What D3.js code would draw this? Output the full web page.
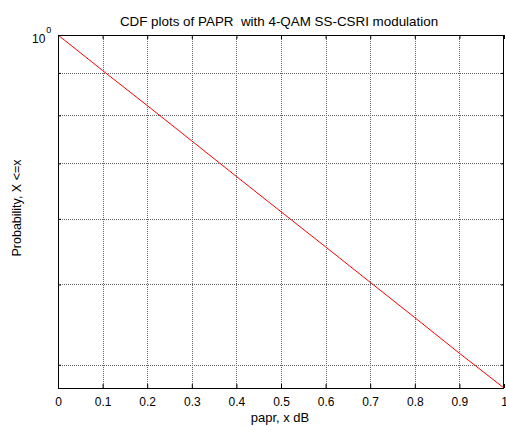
<!DOCTYPE html>
<html>
<head>
<meta charset="utf-8">
<script src="https://cdn.jsdelivr.net/npm/d3@7"></script>
<style>
  body { margin: 0; background: #fff; }
  svg { display: block; font-family: "Liberation Sans", Arial, sans-serif; }
  .grid line { stroke: #666; stroke-width: 1; stroke-dasharray: 1,1; }
</style>
</head>
<body>
<div id="chart"></div>
<script>
// data
var paprDb = [0, 0.1, 0.2, 0.3, 0.4, 0.5, 0.6, 0.7, 0.8, 0.9, 1.0];
var cdfVals = [1.0, 0.906, 0.822, 0.745, 0.675, 0.612, 0.555, 0.503, 0.456, 0.413, 0.375];
var xTicks = [0, 0.1, 0.2, 0.3, 0.4, 0.5, 0.6, 0.7, 0.8, 0.9, 1];
var yMinor = [0.4, 0.5, 0.6, 0.7, 0.8, 0.9];
var yDomain = [0.375, 1];

var width = 506, height = 426,
    margin = {top: 35, right: 2, bottom: 38, left: 58},
    w = width - margin.left - margin.right,
    h = height - margin.top - margin.bottom;

var svg = d3.select("#chart").append("svg")
    .attr("width", width)
    .attr("height", height);

var g = svg.append("g").attr("transform", "translate(" + margin.left + "," + margin.top + ")");

var x = d3.scaleLinear().domain([0, 1]).range([0, w]);
var y = d3.scaleLog().domain(yDomain).range([h, 0]);

// grid
var grid = g.append("g").attr("class", "grid");
grid.selectAll("line.vx")
    .data(xTicks.slice(1, -1))
    .enter().append("line")
    .attr("x1", function(d) { return Math.round(x(d)) + 0.5; })
    .attr("x2", function(d) { return Math.round(x(d)) + 0.5; })
    .attr("y1", 0).attr("y2", h);
grid.selectAll("line.hy")
    .data(yMinor)
    .enter().append("line")
    .attr("x1", 0).attr("x2", w)
    .attr("y1", function(d) { return Math.round(y(d)) + 0.5; })
    .attr("y2", function(d) { return Math.round(y(d)) + 0.5; });

// the curve
var line = d3.line()
    .x(function(d, i) { return x(paprDb[i]); })
    .y(function(d) { return y(d); });

g.append("path")
    .datum(cdfVals)
    .attr("fill", "none")
    .attr("stroke", "#ff0000")
    .attr("stroke-width", 1)
    .attr("d", line);

// axes, ticks pointing inward
var xBottom = d3.axisBottom(x).tickValues(xTicks).tickSize(-4).tickPadding(9)
    .tickFormat(function(d) { return d === 0 || d === 1 ? d3.format("d")(d) : d3.format(".1f")(d); });
var xTop = d3.axisTop(x).tickValues(xTicks).tickSize(-4).tickFormat("");
var yLeft = d3.axisLeft(y).tickValues(yMinor).tickSize(-3).tickFormat("");
var yRight = d3.axisRight(y).tickValues(yMinor).tickSize(-3).tickFormat("");

function styleAxis(sel) {
    sel.select(".domain").remove();
    sel.selectAll(".tick line").attr("stroke", "#000");
    sel.selectAll("text").attr("font-size", 12).attr("fill", "#000")
        .attr("font-family", "Liberation Sans, Arial, sans-serif");
}

g.append("g").attr("transform", "translate(0," + h + ")").call(xBottom).call(styleAxis);
g.append("g").call(xTop).call(styleAxis);
g.append("g").call(yLeft).call(styleAxis);
g.append("g").attr("transform", "translate(" + w + ",0)").call(yRight).call(styleAxis);

// frame
g.append("rect")
    .attr("x", 0.5).attr("y", 0.5)
    .attr("width", w - 1).attr("height", h)
    .attr("fill", "none")
    .attr("stroke", "#000")
    .attr("stroke-width", 1);

// 10^0 label
var yl = svg.append("text")
    .attr("x", 32)
    .attr("y", 43)
    .attr("font-size", 12);
yl.append("tspan").text("10");
yl.append("tspan").attr("dx", 1).attr("dy", -10).attr("font-size", 9).text("0");

// title and labels
svg.append("text")
    .attr("x", 279)
    .attr("y", 26)
    .attr("text-anchor", "middle")
    .attr("font-size", 13.4)
    .style("white-space", "pre")
    .text("CDF plots of PAPR  with 4-QAM SS-CSRI modulation");

svg.append("text")
    .attr("x", 280)
    .attr("y", 422)
    .attr("text-anchor", "middle")
    .attr("font-size", 13)
    .text("papr, x dB");

svg.append("text")
    .attr("transform", "translate(21,208) rotate(-90)")
    .attr("text-anchor", "middle")
    .attr("font-size", 12.5)
    .text("Probability, X <=x");
</script>
</body>
</html>
